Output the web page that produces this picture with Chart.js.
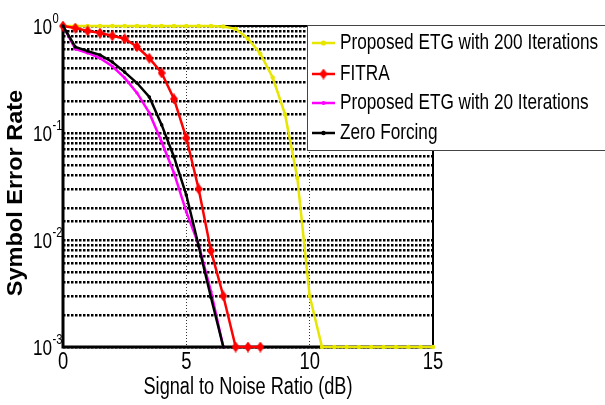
<!DOCTYPE html>
<html>
<head>
<meta charset="utf-8">
<script src="https://cdn.jsdelivr.net/npm/chart.js@4"></script>
<style>
  html, body { margin: 0; padding: 0; background: #fff; }
  #wrap { width: 605px; height: 405px; }
</style>
</head>
<body>
<div id="wrap"><canvas id="ser-chart" width="605" height="405"></canvas></div>
<script>
// SNR in dB, one point every 0.5 dB
const snr = [0, 0.5, 1, 1.5, 2, 2.5, 3, 3.5, 4, 4.5, 5, 5.5, 6, 6.5, 7, 7.5, 8, 8.5, 9, 9.5,
             10, 10.5, 11, 11.5, 12, 12.5, 13, 13.5, 14, 14.5, 15];

// symbol error rate
const etg200 = [1, 1, 1, 1, 1, 1, 1, 1, 1, 1, 1, 1, 1, 0.99, 0.94, 0.76, 0.55, 0.33, 0.15, 0.038,
                0.003, 0.001, 0.001, 0.001, 0.001, 0.001, 0.001, 0.001, 0.001, 0.001, 0.001];
const fitra = [1, 0.957, 0.90, 0.86, 0.81, 0.76, 0.64, 0.50, 0.364, 0.208, 0.0898, 0.030, 0.0079,
               0.0030, 0.001, 0.001, 0.001];
const etg20 = [1, 0.61, 0.56, 0.50, 0.42, 0.327, 0.237, 0.154, 0.0824, 0.0423, 0.0183, 0.0090,
               0.0033, 0.001];
const zeroForcing = [1, 0.637, 0.583, 0.536, 0.461, 0.371, 0.293, 0.217, 0.119, 0.0597, 0.0263,
                     0.0088, 0.0029, 0.001];

const seriesNames = ['Proposed ETG with 200 Iterations', 'FITRA', 'Proposed ETG with 20 Iterations', 'Zero Forcing'];
const xTicks = [0, 5, 10, 15];
const yTicks = [1, 0.1, 0.01, 0.001];
const yTickExp = ['0', '-1', '-2', '-3'];

const FONT = '"Liberation Sans", Arial, sans-serif';

function toPoints(vals) {
    return vals.map((v, i) => ({ x: snr[i], y: v }));
}

function diamond(w, h, color) {
    const c = document.createElement('canvas');
    c.width = w; c.height = h;
    const g = c.getContext('2d');
    g.fillStyle = color;
    g.beginPath();
    g.moveTo(w / 2, 0); g.lineTo(w, h / 2); g.lineTo(w / 2, h); g.lineTo(0, h / 2);
    g.closePath();
    g.fill();
    return c;
}
const redDiamond = diamond(8, 11, '#ff0000');

// text looks like a narrow face, so squeeze it horizontally
function narrowText(ctx, text, x, y, size, align, sx, weight) {
    ctx.save();
    ctx.font = (weight || 'normal') + ' ' + size + 'px ' + FONT;
    ctx.translate(x, y);
    ctx.scale(sx, 1);
    ctx.textAlign = align;
    ctx.textBaseline = 'middle';
    ctx.fillStyle = '#000';
    ctx.fillText(text, 0, 0);
    ctx.restore();
}

const datasets = [
    { label: seriesNames[0], data: toPoints(etg200), borderColor: '#e6e600', backgroundColor: '#e6e600',
      pointStyle: 'circle', pointRadius: 2.2, order: 4 },
    { label: seriesNames[1], data: toPoints(fitra), borderColor: '#ff0000', backgroundColor: '#ff0000',
      pointStyle: redDiamond, pointRadius: 5, order: 3 },
    { label: seriesNames[2], data: toPoints(etg20), borderColor: '#ff00ff', backgroundColor: '#ff00ff',
      pointStyle: 'circle', pointRadius: 1.6, order: 2 },
    { label: seriesNames[3], data: toPoints(zeroForcing), borderColor: '#000', backgroundColor: '#000',
      pointStyle: 'circle', pointRadius: 1.8, order: 1 }
];
datasets.forEach(d => {
    d.borderWidth = 2.5;
    d.pointBorderWidth = 0;
    d.tension = 0;
    d.clip = false;
});

const framePlugin = {
    id: 'frame',
    beforeDatasetsDraw(chart) {
        const { ctx, chartArea: a } = chart;
        ctx.save();
        ctx.strokeStyle = '#000';
        ctx.lineWidth = 2;
        ctx.beginPath();
        ctx.moveTo(a.left, a.top); ctx.lineTo(a.right, a.top); ctx.lineTo(a.right, a.bottom);
        ctx.stroke();
        ctx.lineWidth = 3;
        ctx.beginPath();
        ctx.moveTo(a.left, a.top); ctx.lineTo(a.left, a.bottom); ctx.lineTo(a.right, a.bottom);
        ctx.stroke();
        ctx.restore();
    }
};

const labelsPlugin = {
    id: 'axisText',
    afterDraw(chart) {
        const { ctx, chartArea: a } = chart;
        const xs = chart.scales.x, ys = chart.scales.y;

        xTicks.forEach(t => narrowText(ctx, String(t), xs.getPixelForValue(t), a.bottom + 16, 23, 'center', 0.8));
        yTicks.forEach((t, i) => {
            const py = ys.getPixelForValue(t);
            narrowText(ctx, '10', 33, py + 1.5, 22, 'left', 0.78);
            narrowText(ctx, yTickExp[i], 52.5, py - 7, 14, 'left', 0.8);
        });

        narrowText(ctx, 'Signal to Noise Ratio (dB)', (a.left + a.right) / 2, 388, 23, 'center', 0.79);

        ctx.save();
        ctx.translate(16, 193);
        ctx.rotate(-Math.PI / 2);
        ctx.scale(1, 0.9);
        ctx.font = 'bold 23.5px ' + FONT;
        ctx.textAlign = 'center';
        ctx.textBaseline = 'middle';
        ctx.fillStyle = '#000';
        ctx.fillText('Symbol Error Rate', 0, 0);
        ctx.restore();

        // legend box, sits over the top right of the axes
        ctx.save();
        ctx.fillStyle = '#fff';
        ctx.fillRect(307, 25, 310, 125);
        ctx.strokeStyle = '#444';
        ctx.lineWidth = 1;
        ctx.strokeRect(307.5, 25.5, 310, 125);
        const rows = [43, 74, 103, 133];
        chart.data.datasets.forEach((d, i) => {
            const y = rows[i];
            ctx.strokeStyle = d.borderColor;
            ctx.lineWidth = 2.5;
            ctx.beginPath();
            ctx.moveTo(312, y); ctx.lineTo(335, y);
            ctx.stroke();
            if (d.pointStyle === redDiamond) {
                ctx.drawImage(redDiamond, 323.5 - 4, y - 5.5);
            } else {
                ctx.fillStyle = d.backgroundColor;
                ctx.beginPath();
                ctx.arc(323.5, y, d.pointRadius + 0.4, 0, Math.PI * 2);
                ctx.fill();
            }
            narrowText(ctx, d.label, 340, y, 21.5, 'left', 0.8);
        });
        ctx.restore();
    }
};

new Chart(document.getElementById('ser-chart'), {
    type: 'line',
    data: { datasets: datasets },
    options: {
        responsive: false,
        animation: false,
        devicePixelRatio: 1,
        layout: { padding: { left: 63, right: 172, top: 26, bottom: 58 } },
        plugins: { legend: { display: false }, tooltip: { enabled: false } },
        scales: {
            x: {
                type: 'linear', min: 0, max: 15,
                ticks: { display: false, stepSize: 5 },
                grid: { color: '#333', lineWidth: 1, drawTicks: false },
                border: { display: false, dash: [1, 2] }
            },
            y: {
                type: 'logarithmic', min: 0.001, max: 1,
                ticks: { display: false },
                grid: { color: '#000', lineWidth: 2.5, drawTicks: false },
                border: { display: false, dash: [2.5, 1.5] }
            }
        }
    },
    plugins: [framePlugin, labelsPlugin]
});
</script>
</body>
</html>
